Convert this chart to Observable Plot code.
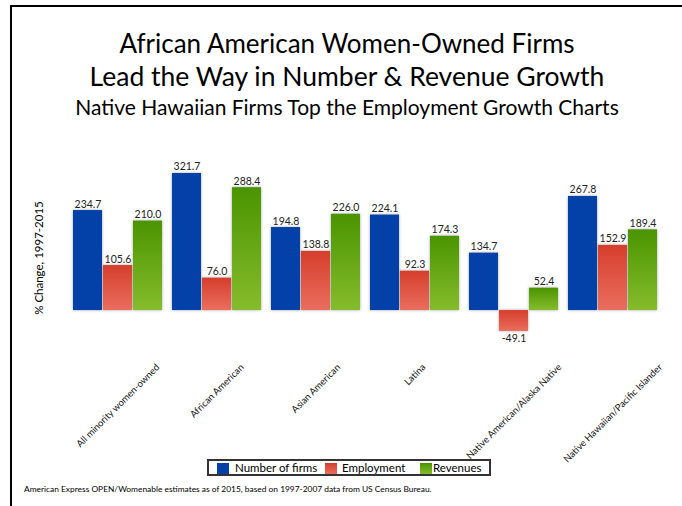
<!DOCTYPE html>
<html><head><meta charset="utf-8">
<script src="https://cdn.jsdelivr.net/npm/d3@7"></script>
<script src="https://cdn.jsdelivr.net/npm/@observablehq/plot@0.6"></script>
<style>
body{margin:0;width:682px;height:506px;overflow:hidden;background:#fff;font-family:Lato,"Open Sans",sans-serif;position:relative}
#frame{position:absolute;left:10px;top:5px;width:700px;height:600px;border-top:2px solid #000;border-left:2px solid #000;box-sizing:border-box}
.t{position:absolute;left:12px;width:670px;text-align:center;color:#000;white-space:nowrap}
#t1{top:28px;font-size:26px;line-height:30px}
#t2{top:61px;font-size:26.5px;line-height:30px}
#t3{top:95px;font-size:21px;line-height:24px}
#ylab{position:absolute;left:38px;top:258px;transform:translate(-50%,-50%) rotate(-90deg);font-size:11.5px;white-space:nowrap;color:#000}
#chart{position:absolute;left:0;top:150px}
#legend{position:absolute;left:207px;top:459px;width:284px;height:17px;border:2px solid #333;box-sizing:border-box;font-size:11.5px;line-height:13px;color:#000;white-space:nowrap}
#legend .it{position:absolute;top:0px}
#legend .sw{position:absolute;top:2px;width:12px;height:11px}
#foot{position:absolute;left:24px;top:484px;font-size:8.4px;line-height:10px;color:#000;white-space:nowrap}
</style></head>
<body>
<div id="frame"></div>
<div class="t" id="t1">African American Women-Owned Firms</div>
<div class="t" id="t2">Lead the Way in Number &amp; Revenue Growth</div>
<div class="t" id="t3">Native Hawaiian Firms Top the Employment Growth Charts</div>
<div id="ylab">% Change, 1997-2015</div>
<div id="chart"></div>
<div id="legend"></div>
<div id="foot">American Express OPEN/Womenable estimates as of 2015, based on 1997-2007 data from US Census Bureau.</div>
<script>
const categories = ["All minority women-owned","African American","Asian American","Latina","Native American/Alaska Native","Native Hawaiian/Pacific Islander"];
const series = ["Number of firms","Employment","Revenues"];
const firms = [234.7,321.7,194.8,224.1,134.7,267.8];
const employment = [105.6,76.0,138.8,92.3,-49.1,152.9];
const revenues = [210.0,288.4,226.0,174.3,52.4,189.4];
const seriesValues = [firms, employment, revenues];
const seriesFills = ["#0340A7","url(#gRed)","url(#gGreen)"];
const legendSwatch = ["#0340A7","linear-gradient(#D63E2C,#EA6E5E)","linear-gradient(#4A9400,#86BC2C)"];

const rows = [];
categories.forEach((c,i)=>series.forEach((s,j)=>rows.push({cat:c, series:s, value:seriesValues[j][i]})));

// measure label widths to align rotated labels' tops
const labelFont = 9.5;
const ctx = document.createElement("canvas").getContext("2d");
ctx.font = `${labelFont}px Lato`;
const halfExt = categories.map(c => (ctx.measureText(c).width + labelFont*0.9) * Math.SQRT1_2 / 2);

const H = 310, mTop = 15.2, mBot = 124.4;
const labelGap = 26.4;

const plot = Plot.plot({
  width: 682, height: H,
  marginTop: mTop, marginBottom: mBot, marginLeft: 73, marginRight: 24,
  style: {fontFamily: "Lato, 'Open Sans', sans-serif", background: "transparent", overflow: "visible"},
  fx: {domain: categories, paddingInner: 0.1, paddingOuter: 0, axis: null, label: null},
  x: {domain: series, paddingInner: 0.05, paddingOuter: 0, axis: null},
  y: {domain: [-60, 340], axis: null},
  color: {domain: series, range: seriesFills},
  marks: [
    Plot.barY(rows, {fx:"cat", x:"series", y:"value", fill:"series", className:"bars"}),
    Plot.text(rows.filter(d=>d.value>=0), {fx:"cat", x:"series", y:"value", text:d=>d.value.toFixed(1), lineAnchor:"bottom", dy:-3, fontSize:10.5, fill:"#222"}),
    Plot.text(rows.filter(d=>d.value<0), {fx:"cat", x:"series", y:"value", text:d=>d.value.toFixed(1), lineAnchor:"top", dy:3, fontSize:10.5, fill:"#222"}),
    ...categories.map((c,i)=>Plot.text([c], {fx:d=>d, text:d=>d, frameAnchor:"bottom", rotate:-45, textAnchor:"middle", lineAnchor:"middle", fontSize:labelFont, fill:"#111", dy: labelGap + halfExt[i]}))
  ]
});

const defs = d3.select(plot).insert("defs", ":first-child");
function grad(id, top, bottom){
  const g = defs.append("linearGradient").attr("id", id).attr("x1",0).attr("y1",0).attr("x2",0).attr("y2",1);
  g.append("stop").attr("offset","0%").attr("stop-color",top);
  g.append("stop").attr("offset","100%").attr("stop-color",bottom);
}
grad("gRed", "#D63E2C", "#EA6E5E");
grad("gGreen", "#4A9400", "#86BC2C");
d3.select(plot).selectAll(".bars").style("filter","drop-shadow(0px 0px 1.5px rgba(0,0,0,0.35))");
document.getElementById("chart").appendChild(plot);

// legend
const leg = document.getElementById("legend");
const swX = [8, 116, 211], txX = [26, 133, 224];
series.forEach((s,j)=>{
  const sw = document.createElement("span"); sw.className="sw"; sw.style.left = swX[j]+"px"; sw.style.background = legendSwatch[j]; leg.appendChild(sw);
  const tx = document.createElement("span"); tx.className="it"; tx.style.left = txX[j]+"px"; tx.textContent = s; leg.appendChild(tx);
});
</script>
</body></html>
